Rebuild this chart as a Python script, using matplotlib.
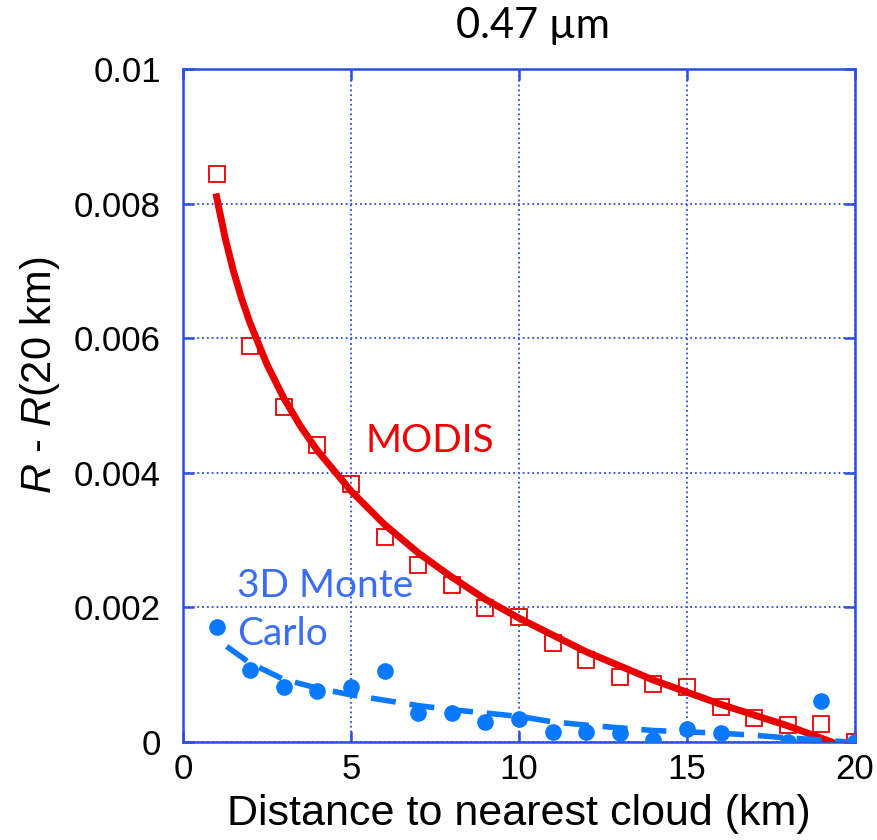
import matplotlib
matplotlib.use("Agg")
import matplotlib.pyplot as plt
from matplotlib.ticker import FuncFormatter

# MODIS observations (squares)
modis_x = [1, 2, 3, 4, 5, 6, 7, 8, 9, 10, 11, 12, 13, 14, 15, 16, 17, 18, 19, 20]
modis_y = [0.00844, 0.00588, 0.00497, 0.00441, 0.00384, 0.00305, 0.00263, 0.00233,
           0.00199, 0.00186, 0.00147, 0.00122, 0.00097, 0.00086, 0.00082, 0.00052,
           0.00036, 0.00025, 0.00027, 0.0]

# MODIS fit line
modis_fit_x = [1, 1.25, 1.5, 1.75, 2, 2.5, 3, 3.5, 4, 5, 6, 7, 8, 9, 10, 12, 14, 16, 18, 19.3]
modis_fit_y = [0.0081, 0.00750, 0.00700, 0.00658, 0.00622, 0.00561, 0.00511, 0.00469,
               0.00433, 0.00373, 0.00323, 0.00281, 0.00245, 0.00212, 0.00184, 0.00134,
               0.00092, 0.00056, 0.00024, 0.0]

# 3D Monte Carlo (dots)
mc_x = [1, 2, 3, 4, 5, 6, 7, 8, 9, 10, 11, 12, 13, 14, 15, 16, 18, 19, 20]
mc_y = [0.00171, 0.00107, 0.00082, 0.00075, 0.00081, 0.00106, 0.00043, 0.00043,
        0.00030, 0.00034, 0.00015, 0.00015, 0.00013, 0.00003, 0.00020, 0.00013,
        0.0, 0.00061, 0.0]

# Monte Carlo fit line (dashed)
mc_fit_x = [1.3, 2, 3, 4, 5, 6, 7, 8, 9, 10, 11, 12, 13, 14, 15, 16, 17, 18, 19, 19.8]
mc_fit_y = [0.00142, 0.00117, 0.00093, 0.00080, 0.00070, 0.00062, 0.00054, 0.00048,
            0.00043, 0.00038, 0.00030, 0.00025, 0.00021, 0.00017, 0.00015, 0.00013,
            0.00010, 0.00006, 0.00003, 0.0]

plt.rcParams['font.family'] = ['Liberation Sans', 'DejaVu Sans']
plt.rcParams['mathtext.fontset'] = 'custom'
plt.rcParams['mathtext.it'] = 'Liberation Sans:italic'
plt.rcParams['mathtext.rm'] = 'Liberation Sans'

blue_axis = '#2b4fe0'
red = '#e80000'
blue_pts = '#0a78ff'
label_font = ['Lato', 'DejaVu Sans']

fig = plt.figure(figsize=(8.78, 8.4), dpi=100)
ax = fig.add_axes([0.2084, 0.1167, 0.7654, 0.8012])

ax.plot(modis_x, modis_y, 's', ms=11.5, mfc='none', mec=red, mew=1.3, zorder=3)
ax.plot(modis_fit_x, modis_fit_y, '-', color=red, lw=5, zorder=4)
ax.plot(mc_fit_x, mc_fit_y, '--', color=blue_pts, lw=4, dashes=(4.5, 2.5), zorder=4)
ax.plot(mc_x, mc_y, 'o', ms=12, color=blue_pts, mec='none', zorder=5)

ax.set_xlim(0, 20)
ax.set_ylim(0, 0.01)
ax.set_xticks([0, 5, 10, 15, 20])
ax.set_yticks([0, 0.002, 0.004, 0.006, 0.008, 0.01])
ax.yaxis.set_major_formatter(FuncFormatter(lambda v, p: f"{v:g}"))
ax.grid(True, color=blue_axis, ls=':', lw=1.3)
for s in ax.spines.values():
    s.set_color(blue_axis)
    s.set_linewidth(1.8)
ax.tick_params(direction='in', length=8, width=1.8, color=blue_axis,
               top=True, right=True, labelsize=25)
ax.tick_params(axis='x', pad=8)
ax.tick_params(axis='y', pad=16)

ax.set_xlabel('Distance to nearest cloud (km)', fontsize=31)
ax.xaxis.set_label_coords(0.5, -0.077)
ax.set_ylabel('$R$ - $R$(20 km)', fontsize=30)
ax.yaxis.set_label_coords(-0.18, 0.545)

fig.text(0.607, 1 - 38 / 840, '0.47 µm', fontsize=30, family=label_font,
         ha='center', va='baseline')

ax.text(5.42, 0.00431, 'MODIS', color='#f00000', fontsize=28, family=label_font,
        va='baseline')
ax.text(1.61, 0.00215, '3D Monte', color='#3b6ef5', fontsize=28, family=label_font,
        va='baseline')
ax.text(1.61, 0.00144, 'Carlo', color='#3b6ef5', fontsize=28, family=label_font,
        va='baseline')

fig.savefig('out.png', dpi=100)
